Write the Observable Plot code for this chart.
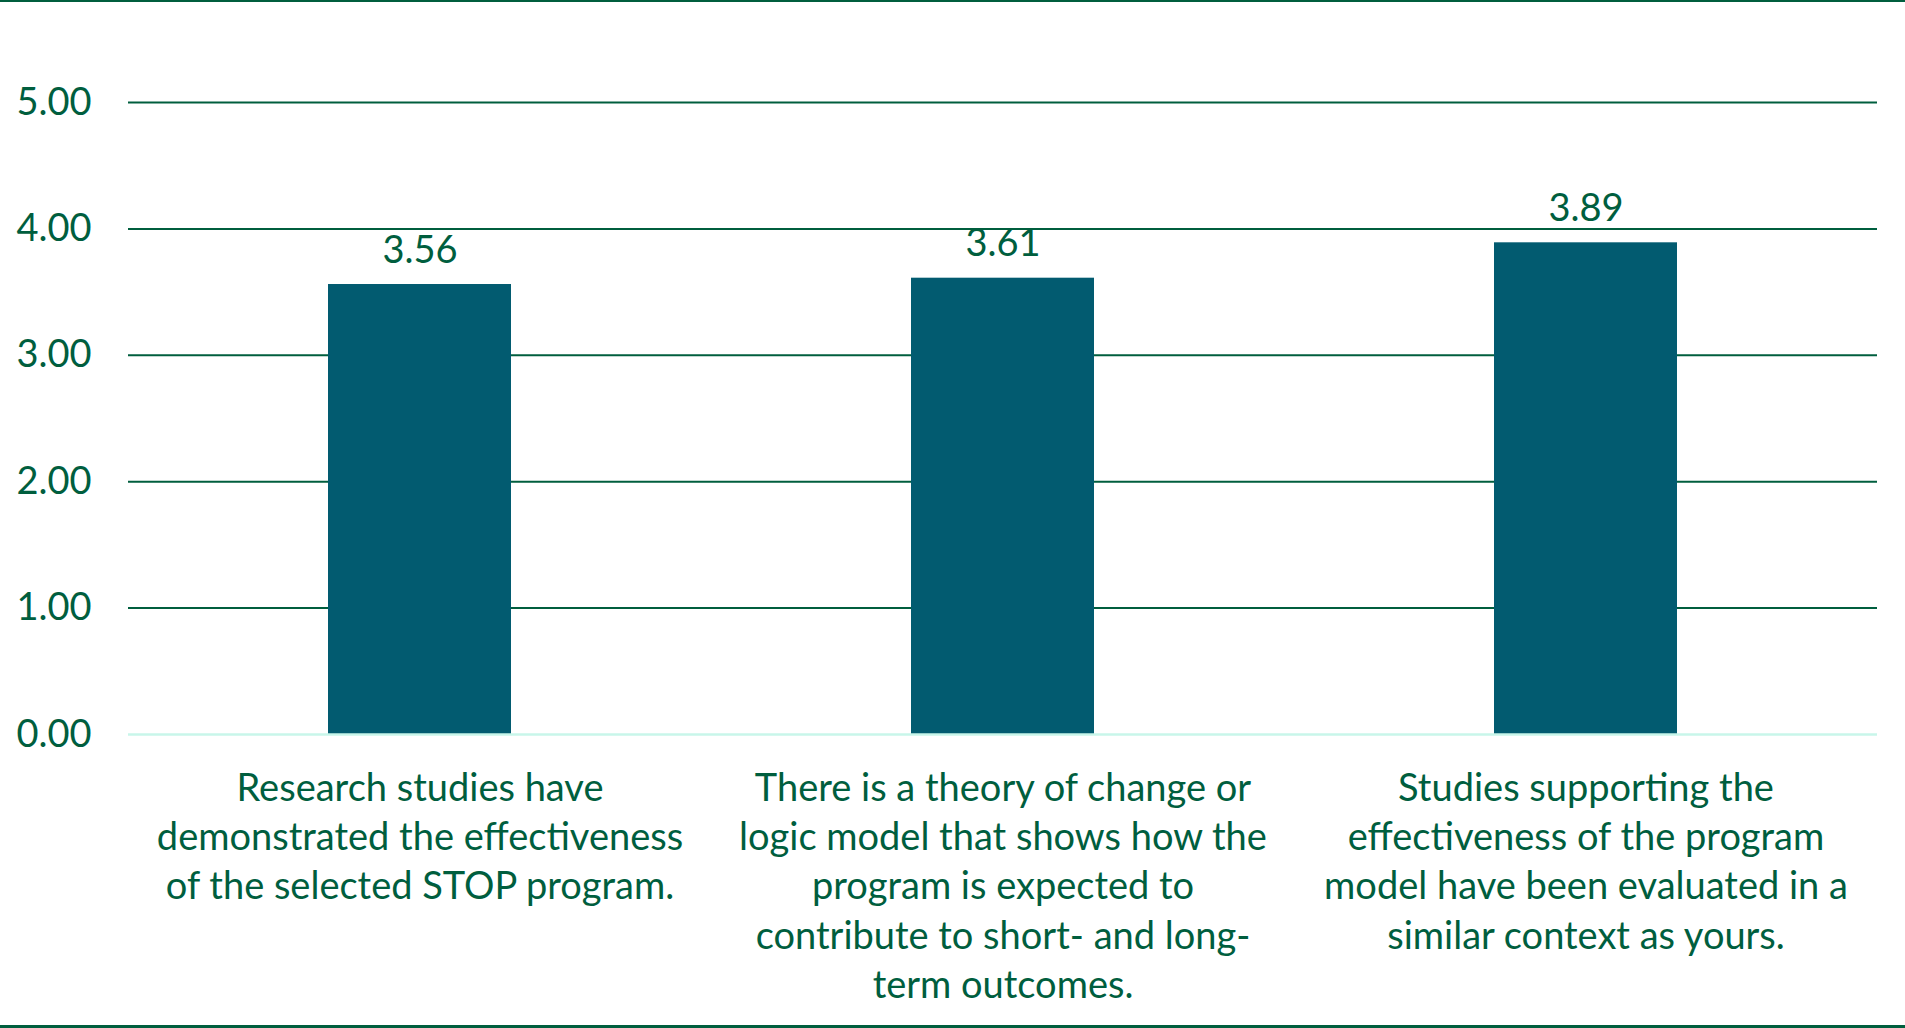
<!DOCTYPE html>
<html>
<head>
<meta charset="utf-8">
<script src="https://cdn.jsdelivr.net/npm/d3@7"></script>
<script src="https://cdn.jsdelivr.net/npm/@observablehq/plot@0.6"></script>
<style>
  html, body { margin: 0; padding: 0; background: #fff; }
  #wrap { width: 1905px; border-top: 2px solid #005e3e; border-bottom: 3px solid #005e3e; }
  svg { display: block; }
</style>
</head>
<body>
<div id="wrap"></div>
<script>
const categories = [
  "Research studies have\ndemonstrated the effectiveness\nof the selected STOP program.",
  "There is a theory of change or\nlogic model that shows how the\nprogram is expected to\ncontribute to short- and long-\nterm outcomes.",
  "Studies supporting the\neffectiveness of the program\nmodel have been evaluated in a\nsimilar context as yours."
];
const values = [3.56, 3.61, 3.89];
const yTicks = [0, 1, 2, 3, 4, 5];

const data = categories.map((c, i) => ({cat: c, value: values[i]}));
const textColor = "#005e3e";
const font = "Lato, 'Open Sans', sans-serif";

const chart = Plot.plot({
  width: 1905,
  height: 1023,
  marginTop: 100,
  marginBottom: 291,
  marginLeft: 128,
  marginRight: 28,
  style: {fontFamily: font, fontSize: "38px", color: textColor, background: "#fff"},
  x: {domain: categories, paddingInner: 0.686, paddingOuter: 0.343, axis: null},
  y: {domain: [0, 5], ticks: yTicks, axis: null},
  marks: [
    Plot.ruleY(yTicks.filter(d => d > 0), {stroke: "#005e3e", strokeWidth: 2}),
    Plot.barY(data, {x: "cat", y: "value", fill: "#025b70"}),
    Plot.ruleY([0], {stroke: "#c8f6ea", strokeWidth: 2.5}),
    Plot.axisY(yTicks, {tickSize: 0, tickPadding: 37, tickFormat: d => d.toFixed(2), fontSize: 38, fill: textColor, label: null}),
    Plot.text(data, {x: "cat", y: "value", text: d => d.value.toFixed(2), dy: -22, lineAnchor: "bottom", fontSize: 38, fill: textColor}),
    Plot.text(data, {x: "cat", y: 0, text: "cat", lineAnchor: "top", dy: 31, lineHeight: 1.3, fontSize: 38, fill: textColor})
  ]
});
document.getElementById("wrap").appendChild(chart);
</script>
</body>
</html>
